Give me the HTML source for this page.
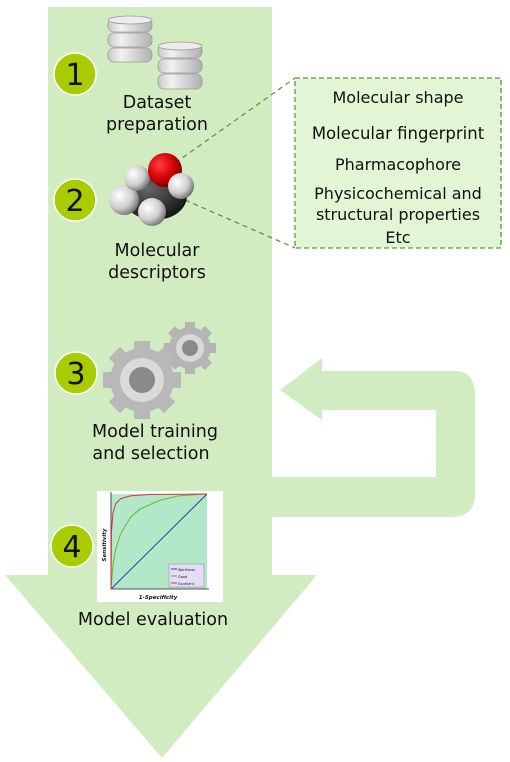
<!DOCTYPE html>
<html><head><meta charset="utf-8"><style>
html,body{margin:0;padding:0;background:#fff;}
svg{display:block;}
text{font-family:"DejaVu Sans","Liberation Sans",sans-serif;fill:#111;}
</style></head><body>
<svg width="510" height="762" viewBox="0 0 510 762">
<defs>
<linearGradient id="disk" x1="0" x2="1"><stop offset="0" stop-color="#c8c8c8"/><stop offset="0.3" stop-color="#f2f2f2"/><stop offset="1" stop-color="#b0b0b0"/></linearGradient>
<radialGradient id="hs" cx="0.35" cy="0.35" r="0.7"><stop offset="0" stop-color="#ffffff"/><stop offset="0.6" stop-color="#cfcfcf"/><stop offset="1" stop-color="#707070"/></radialGradient>
<radialGradient id="os" cx="0.35" cy="0.35" r="0.7"><stop offset="0" stop-color="#ff4040"/><stop offset="0.6" stop-color="#d00000"/><stop offset="1" stop-color="#700000"/></radialGradient>
<radialGradient id="cs" cx="0.4" cy="0.35" r="0.7"><stop offset="0" stop-color="#666"/><stop offset="1" stop-color="#111"/></radialGradient>
</defs>
<polygon fill="#d2ecc2" points="48,7 272,7 272,575 317,575 162,758 5,575 48,575"/>
<path fill="#d2ecc2" d="M272,477 L436,477 L436,410 L322,410 L322,420 L280,390 L322,358 L322,371 L455,371 Q475,371 475,395 L475,495 Q475,517 450,517 L272,517 Z"/>
<line x1="168" y1="168" x2="295" y2="78" stroke="#5a9a38" stroke-width="1.3" stroke-dasharray="5,4"/>
<line x1="185" y1="200" x2="295" y2="248" stroke="#5a9a38" stroke-width="1.3" stroke-dasharray="5,4"/>
<g>
<rect x="295" y="78" width="206" height="170" fill="#e2f5d4" stroke="#5a9a38" stroke-width="1.3" stroke-dasharray="5,3"/>
<text x="398" y="103" font-size="16" text-anchor="middle">Molecular shape</text>
<text x="398" y="139" font-size="16.5" text-anchor="middle">Molecular fingerprint</text>
<text x="398" y="170" font-size="16" text-anchor="middle">Pharmacophore</text>
<text x="398" y="199" font-size="16" text-anchor="middle">Physicochemical and</text>
<text x="398" y="220" font-size="16" text-anchor="middle">structural properties</text>
<text x="398" y="243" font-size="16" text-anchor="middle">Etc</text>
</g>
<g><circle cx="75" cy="74" r="21" fill="#a8cc00" stroke="#fff" stroke-width="1.5"/><text x="75" y="85" font-size="30" text-anchor="middle">1</text></g>
<g><circle cx="75" cy="200" r="21" fill="#a8cc00" stroke="#fff" stroke-width="1.5"/><text x="75" y="211" font-size="30" text-anchor="middle">2</text></g>
<g><circle cx="76" cy="373" r="21" fill="#a8cc00" stroke="#fff" stroke-width="1.5"/><text x="76" y="384" font-size="30" text-anchor="middle">3</text></g>
<g><circle cx="72" cy="546" r="21" fill="#a8cc00" stroke="#fff" stroke-width="1.5"/><text x="72" y="557" font-size="30" text-anchor="middle">4</text></g>
<g stroke="#999" stroke-width="0.8">
<g><rect x="108" y="48" width="44" height="14" rx="6" fill="url(#disk)"/><rect x="108" y="33" width="44" height="14" rx="6" fill="url(#disk)"/><rect x="108" y="18" width="44" height="14" rx="6" fill="url(#disk)"/><ellipse cx="130" cy="20" rx="22" ry="4" fill="#ececec"/></g>
<g><rect x="158" y="74" width="44" height="15" rx="6" fill="url(#disk)"/><rect x="158" y="59" width="44" height="14" rx="6" fill="url(#disk)"/><rect x="158" y="44" width="44" height="14" rx="6" fill="url(#disk)"/><ellipse cx="180" cy="46" rx="22" ry="4" fill="#ececec"/></g>
</g>
<text x="157" y="108" font-size="17.5" text-anchor="middle">Dataset</text>
<text x="157" y="130" font-size="17.5" text-anchor="middle">preparation</text>
<g>
<ellipse cx="155" cy="196" rx="32" ry="24" fill="url(#cs)"/>
<circle cx="124" cy="200" r="15" fill="url(#hs)"/>
<circle cx="137" cy="178" r="13" fill="url(#hs)"/>
<circle cx="165" cy="170" r="17" fill="url(#os)"/>
<circle cx="181" cy="186" r="13" fill="url(#hs)"/>
<circle cx="152" cy="212" r="14" fill="url(#hs)"/>
</g>
<text x="157" y="256" font-size="17.5" text-anchor="middle">Molecular</text>
<text x="157" y="278" font-size="17.5" text-anchor="middle">descriptors</text>
<g>
<g transform="translate(190,348)"><circle r="21" fill="#b5b5b5"/><g fill="#b5b5b5"><rect x="-5" y="-26" width="10" height="52"/><rect x="-26" y="-5" width="52" height="10"/><rect x="-5" y="-26" width="10" height="52" transform="rotate(45)"/><rect x="-5" y="-26" width="10" height="52" transform="rotate(-45)"/></g><circle r="14" fill="#d8d8d8"/><circle r="8" fill="#8a8a8a"/></g>
<g transform="translate(142,380)"><circle r="32" fill="#b8b8b8"/><g fill="#b8b8b8"><rect x="-8" y="-39" width="16" height="78"/><rect x="-39" y="-8" width="78" height="16"/><rect x="-8" y="-39" width="16" height="78" transform="rotate(45)"/><rect x="-8" y="-39" width="16" height="78" transform="rotate(-45)"/></g><circle r="22" fill="#dadada"/><circle r="13" fill="#8a8a8a"/></g>
</g>
<text x="155" y="437" font-size="17.5" text-anchor="middle">Model training</text>
<text x="151" y="459" font-size="17.5" text-anchor="middle">and selection</text>
<g>
<rect x="97" y="491" width="126" height="111" fill="#fff"/>
<rect x="111" y="494" width="96" height="95" fill="#b2e8c8"/>
<line x1="111" y1="492" x2="111" y2="589" stroke="#222" stroke-width="0.8"/>
<line x1="111" y1="589" x2="209" y2="589" stroke="#222" stroke-width="0.8"/>
<g id="roc-lines"></g>
<rect x="169" y="564" width="35" height="23" fill="#e6dcf6" stroke="#888" stroke-width="0.5"/>
<line x1="171" y1="569" x2="177" y2="569" stroke="#3a3aa0"/><text x="178" y="571" font-size="3.5">Worthless</text>
<line x1="171" y1="576" x2="177" y2="576" stroke="#5cbf2a"/><text x="178" y="578" font-size="3.5">Good</text>
<line x1="171" y1="583" x2="177" y2="583" stroke="#e03040"/><text x="178" y="585" font-size="3.5">Excellent</text>
<text x="158" y="599" font-size="5.5" font-weight="bold" font-style="italic" text-anchor="middle">1-Specificity</text>
<text x="106" y="545" font-size="5.5" font-weight="bold" font-style="italic" text-anchor="middle" transform="rotate(-90 106 545)">Sensitivity</text>
</g>
<text x="153" y="625" font-size="17.5" text-anchor="middle">Model evaluation</text>
</svg>
<script>
const fprGood=[0,0.02,0.05,0.1,0.2,0.3,0.5,0.7,1];
const tprGood=[0,0.25,0.42,0.58,0.75,0.84,0.93,0.98,1];
const fprExcellent=[0,0.005,0.02,0.05,0.1,0.2,0.4,1];
const tprExcellent=[0,0.6,0.8,0.9,0.95,0.98,0.995,1];
const fprWorthless=[0,1];
const tprWorthless=[0,1];
const sx=v=>111+v*96, sy=v=>589-v*95;
const g=document.getElementById('roc-lines');
function draw(xs,ys,color,name){
  const p=document.createElementNS('http://www.w3.org/2000/svg','polyline');
  p.setAttribute('points',xs.map((x,i)=>sx(x)+','+sy(ys[i])).join(' '));
  p.setAttribute('fill','none');p.setAttribute('stroke',color);p.setAttribute('stroke-width','1');
  
  
  g.appendChild(p);
}
draw(fprWorthless,tprWorthless,'#2a3ab0','roc-line-worthless');
draw(fprGood,tprGood,'#5cbf2a','roc-line-good');
draw(fprExcellent,tprExcellent,'#e03040','roc-line-excellent');
</script>
</body></html>
